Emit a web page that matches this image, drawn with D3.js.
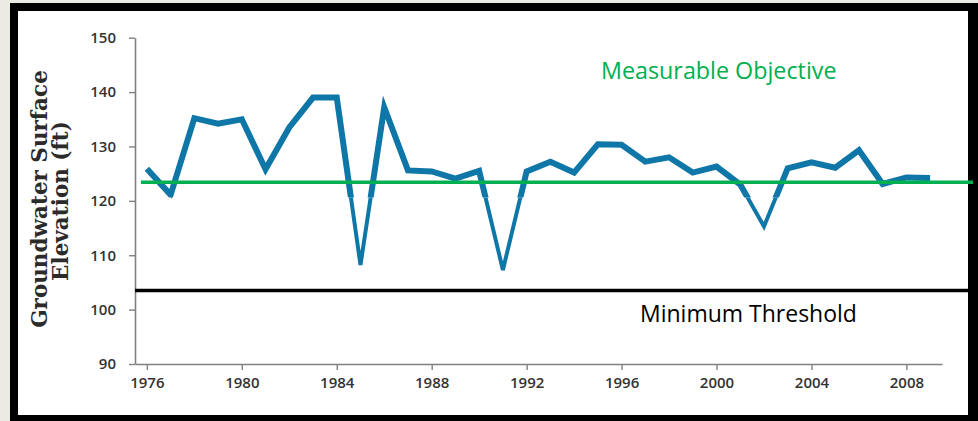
<!DOCTYPE html>
<html><head><meta charset="utf-8">
<script src="https://cdn.jsdelivr.net/npm/d3@7"></script>
<style>html,body{margin:0;padding:0;background:#ecebe3;}svg{display:block;}</style>
</head><body>
<svg id="chart" width="978" height="421"></svg>
<script>
const years = [1976,1977,1978,1979,1980,1981,1982,1983,1984,1985,1986,1987,1988,1989,1990,1991,1992,1993,1994,1995,1996,1997,1998,1999,2000,2001,2002,2003,2004,2005,2006,2007,2008,2009];
const elevation = [125.9,121.1,135.2,134.2,135.0,125.8,133.5,139.0,139.0,108.2,137.2,125.6,125.4,124.1,125.5,107.3,125.4,127.2,125.2,130.4,130.3,127.2,128.0,125.2,126.3,123.0,115.3,126.0,127.1,126.1,129.3,123.1,124.3,124.2];
const xTicks = [1976,1980,1984,1988,1992,1996,2000,2004,2008];
const yTicks = [90,100,110,120,130,140,150];
const measurableObjective = 123.4;
const minimumThreshold = 103.5;
const titleLines = ["Groundwater Surface", "Elevation (ft)"];
const labelMO = "Measurable Objective";
const labelMT = "Minimum Threshold";

const svg = d3.select("#chart");
const W = 978, H = 421;
// frame
svg.append("rect").attr("x",0).attr("y",0).attr("width",W).attr("height",H).attr("fill","#ecebe3");
svg.append("rect").attr("x",10).attr("y",3).attr("width",W-10).attr("height",H-3).attr("fill","#000");
svg.append("rect").attr("x",18).attr("y",11).attr("width",950).attr("height",404).attr("fill","#fff");

const x = d3.scaleLinear().domain([1975.5, 2009.5]).range([135, 942]);
const y = d3.scaleLinear().domain([90, 150]).range([364, 37.7]);

const data = years.map((yr,i)=>({yr, v: elevation[i]}));

// axes
const axisColor = "#808080";
const gx = svg.append("g").attr("transform",`translate(0,${y(90)})`)
  .call(d3.axisBottom(x).tickValues(xTicks).tickFormat(d3.format("d")).tickSize(6).tickSizeOuter(0).tickPadding(7));
const gy = svg.append("g").attr("transform",`translate(${x(1975.5)},0)`)
  .call(d3.axisLeft(y).tickValues(yTicks).tickSize(6).tickSizeOuter(0).tickPadding(13));
[gx,gy].forEach(g=>{
  g.select(".domain").attr("stroke",axisColor).attr("stroke-width",1.6);
  g.selectAll(".tick line").attr("stroke",axisColor).attr("stroke-width",1.4);
  g.selectAll(".tick text").attr("fill","#333").attr("font-family","'Open Sans', sans-serif")
    .attr("font-weight",600).attr("font-size",15);
});

// axis title
const title = svg.append("text").attr("transform","rotate(-90)")
  .attr("font-family","'DejaVu Serif', serif").attr("font-weight","bold").attr("font-size",21.5)
  .attr("fill","#2b2b2b").attr("text-anchor","middle");
title.append("tspan").attr("x",-199).attr("y",47).text(titleLines[0]);
title.append("tspan").attr("x",-201).attr("y",68).text(titleLines[1]);

// threshold lines
svg.append("line").attr("x1",x(1975.5)).attr("x2",968)
  .attr("y1",y(minimumThreshold)).attr("y2",y(minimumThreshold))
  .attr("stroke","#000").attr("stroke-width",3.5);

// series line: thick above split, thin below
const SPLIT = 120.6;
const defs = svg.append("defs");
defs.append("clipPath").attr("id","clipTop").append("rect")
  .attr("x",0).attr("y",0).attr("width",W).attr("height",y(SPLIT));
defs.append("clipPath").attr("id","clipBot").append("rect")
  .attr("x",0).attr("y",y(SPLIT)).attr("width",W).attr("height",H-y(SPLIT));
const line = d3.line().x(d=>x(d.yr)).y(d=>y(d.v));
const blue = "#0f77a8";
svg.append("path").datum(data).attr("d",line).attr("fill","none")
  .attr("stroke",blue).attr("stroke-width",4).attr("clip-path","url(#clipBot)");
svg.append("path").datum(data).attr("d",line).attr("fill","none")
  .attr("stroke",blue).attr("stroke-width",6).attr("clip-path","url(#clipTop)");

svg.append("line").attr("x1",x(1975.75)).attr("x2",973)
  .attr("y1",y(measurableObjective)).attr("y2",y(measurableObjective))
  .attr("stroke","#00b050").attr("stroke-width",3.5);

// labels
svg.append("text").attr("x",601).attr("y",79).attr("fill","#00b050")
  .attr("font-family","'Open Sans', sans-serif").attr("font-size",23.3).text(labelMO);
svg.append("text").attr("x",640).attr("y",321.5).attr("fill","#000")
  .attr("font-family","'Open Sans', sans-serif").attr("font-size",23).text(labelMT);
</script>
</body></html>
